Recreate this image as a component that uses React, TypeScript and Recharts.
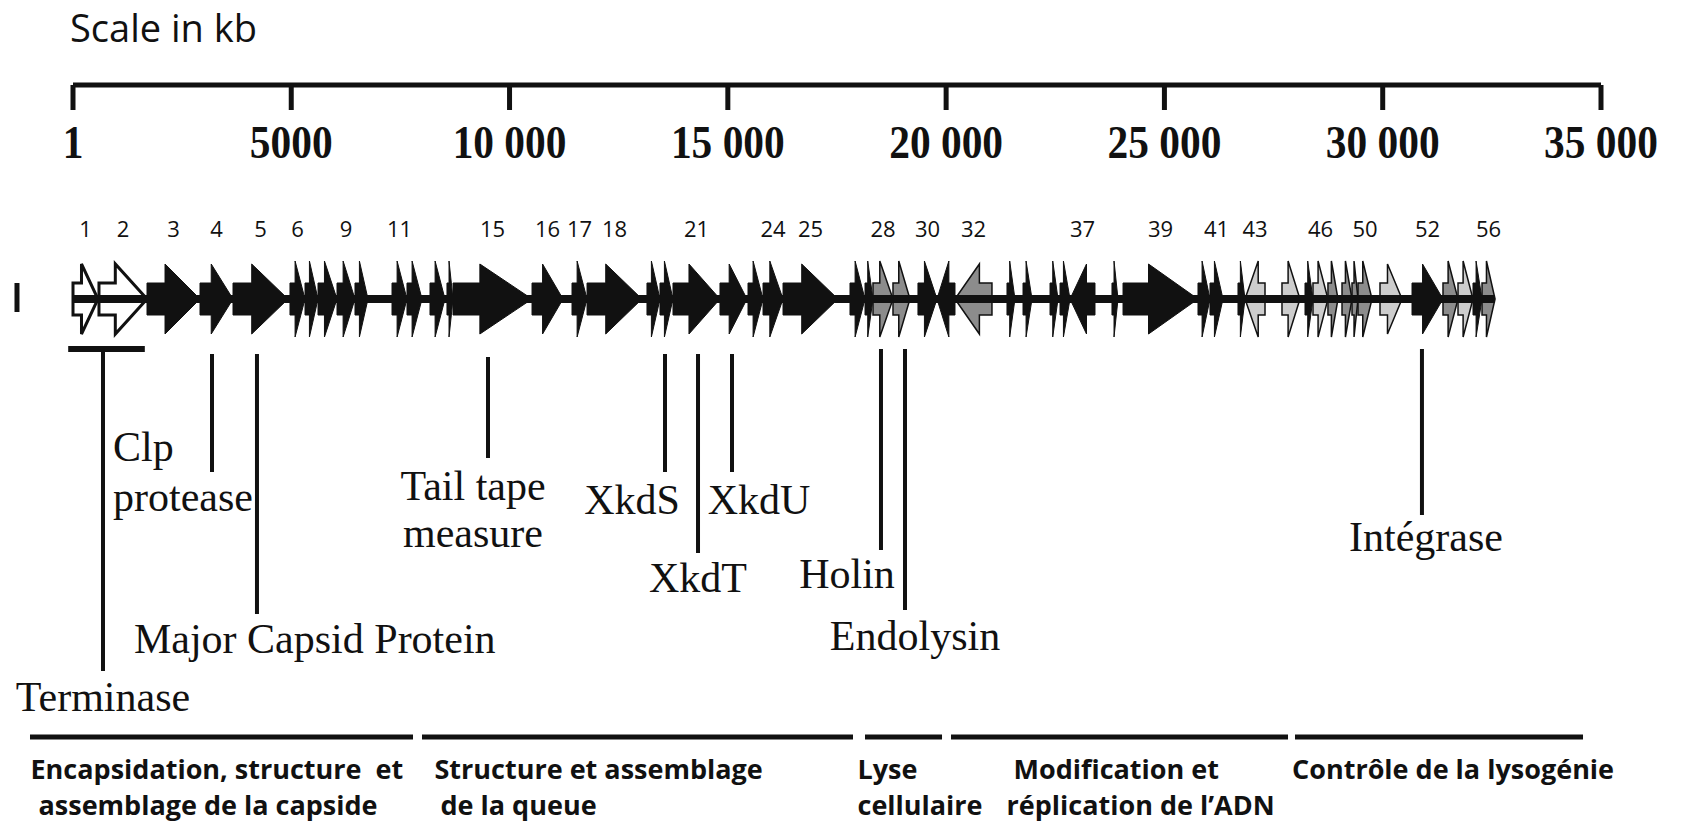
import React from "react";
import {
  ScatterChart,
  XAxis,
  YAxis,
  Scatter,
  ReferenceArea,
  ReferenceLine,
  Customized,
} from "recharts";

// chart box
const W = 1667;
const H = 813;

// ruler (bp)
const rulerTicks = [1, 5000, 10000, 15000, 20000, 25000, 30000, 35000];

// genes (bp)
const geneStart = [
  1, 596, 1696, 2910, 3666, 4971, 5315, 5613, 6048, 6460, 7308, 7651, 8178, 8567, 8705, 10515, 11431, 11775,
  13148, 13446, 13744, 14820, 15462, 15806, 16264, 17798, 18142, 18325, 18783, 19355, 19791, 20203, 21394,
  21761, 22380, 22609, 22838, 23799, 24052, 25769, 26044, 26685, 26846, 27693, 28220, 28403, 28746, 29068,
  29297, 29434, 29938, 30671, 31381, 31725, 32068, 32275,
];
const geneEnd = [
  573, 1696, 2910, 3666, 4926, 5315, 5613, 6048, 6460, 6758, 7651, 7995, 8522, 8705, 10515, 11225, 11775,
  13034, 13446, 13744, 14820, 15439, 15806, 16264, 17523, 18142, 18325, 18783, 19172, 19791, 20203, 21050,
  21577, 21967, 22563, 22838, 23410, 23937, 25769, 26044, 26342, 26846, 27304, 28105, 28403, 28746, 28976,
  29297, 29434, 29755, 30442, 31381, 31725, 32068, 32275, 32573,
];
const reverseGenes = [31, 32, 37, 43];
const whiteGenes = [1, 2];
const greyGenes = [28, 29, 32, 47, 48, 49, 50, 53, 56];
const paleGenes = [43, 44, 46, 51, 54];
const labelledGenes = [1, 2, 3, 4, 5, 6, 9, 11, 15, 16, 17, 18, 21, 24, 25, 28, 30, 32, 37, 39, 41, 43, 46, 50, 52, 56];

// annotated genes
const annotationNames = [
  "Terminase",
  "Clp\nprotease",
  "Major Capsid Protein",
  "Tail tape\nmeasure",
  "XkdS",
  "XkdT",
  "XkdU",
  "Holin",
  "Endolysin",
  "Intégrase",
];
const annotationPos = [688, 3185, 4215, 9507, 13561, 14317, 15096, 18508, 19058, 30899];

// functional modules
const moduleNames = [
  "Encapsidation, structure  et\nassemblage de la capside",
  "Structure et assemblage\nde la queue",
  "Lyse\ncellulaire",
  "Modification et\nréplication de l\u2019ADN",
  "Contrôle de la lysogénie",
];
const moduleStart = [-984, 7995, 18142, 20112, 27991];
const moduleEnd = [7789, 17867, 19906, 27831, 34588];

// ---- layout (px in chart box) ----
const TRACK_Y = 291;
const BODY_HALF = 16;
const NUMBER_Y = 229;
const annotationLayout = [
  { top: 341, bottom: 663, y: 703, dx: 0, anchor: "middle", gap: 0 },
  { top: 346, bottom: 464, y: 453, dx: -99, anchor: "start", gap: 50 },
  { top: 346, bottom: 606, y: 645, dx: -123, anchor: "start", gap: 0 },
  { top: 349, bottom: 450, y: 492, dx: -15, anchor: "middle", gap: 47 },
  { top: 346, bottom: 464, y: 506, dx: -33, anchor: "middle", gap: 0 },
  { top: 346, bottom: 545, y: 584, dx: 0, anchor: "middle", gap: 0 },
  { top: 346, bottom: 464, y: 506, dx: 27, anchor: "middle", gap: 0 },
  { top: 341, bottom: 542, y: 580, dx: -34, anchor: "middle", gap: 0 },
  { top: 341, bottom: 602, y: 642, dx: 10, anchor: "middle", gap: 0 },
  { top: 341, bottom: 507, y: 543, dx: 4, anchor: "middle", gap: 0 },
];
const MODULE_BAR_Y = 729;
const MODULE_TEXT_Y = 771;
const MODULE_LINE_GAP = 36;
const moduleDx = [
  [-191, -183],
  [-203, -197],
  [-46, -46],
  [-106, -113],
  [-147, -147],
];

const INK = "#111";
const SERIF = "'Liberation Serif', 'Times New Roman', serif";
const SANS = "'Open Sans', 'Noto Sans', sans-serif";

const genes = geneStart.map((s, i) => {
  const id = i + 1;
  let tone = "black";
  if (whiteGenes.includes(id)) tone = "white";
  else if (greyGenes.includes(id)) tone = "grey";
  else if (paleGenes.includes(id)) tone = "pale";
  return { id, start: s, end: geneEnd[i], reverse: reverseGenes.includes(id), tone };
});

const numberData = labelledGenes.map((id) => ({
  x: (geneStart[id - 1] + geneEnd[id - 1]) / 2,
  y: NUMBER_Y,
  label: String(id),
}));

const annotationData = annotationNames.map((name, i) => ({
  x: annotationPos[i],
  y: annotationLayout[i].y,
  lines: name.split("\n"),
  i,
}));

const moduleData = moduleNames.map((name, i) => ({
  x: (moduleStart[i] + moduleEnd[i]) / 2,
  y: MODULE_TEXT_Y,
  lines: name.split("\n"),
  i,
}));

const toneFill: Record<string, string> = { black: INK, white: "#fff", grey: "#8c8c8c", pale: "#cdcdcd" };

function GeneArrow(props: any) {
  const { x, y, width, height, reverse, tone } = props;
  const cy = y + height / 2;
  const half = height / 2;
  const head = width * 0.66;
  const headHalf = width < 22 ? 38 : 35;
  const tip = reverse ? x : x + width;
  const tail = reverse ? x + width : x;
  const neck = reverse ? x + head : x + width - head;
  const pts = [
    [tail, cy - half],
    [neck, cy - half],
    [neck, cy - headHalf],
    [tip, cy],
    [neck, cy + headHalf],
    [neck, cy + half],
    [tail, cy + half],
  ]
    .map((p) => p.join(","))
    .join(" ");
  return (
    <polygon
      points={pts}
      fill={toneFill[tone]}
      stroke={INK}
      strokeWidth={tone === "white" ? 3 : tone === "black" ? 1 : 1.5}
      strokeLinejoin="miter"
    />
  );
}

function RulerTick(props: any) {
  const { x, y, payload } = props;
  const v = payload.value;
  const label = v >= 10000 ? `${Math.floor(v / 1000)} ${String(v % 1000).padStart(3, "0")}` : String(v);
  return (
    <g transform={`translate(${x},${y})`}>
      <text transform="scale(0.9,1)" textAnchor="middle" fontFamily={SERIF} fontWeight={700} fontSize={46} fill={INK}>
        {label}
      </text>
    </g>
  );
}

const GeneNumber = (p: any) => (
  <text x={p.cx} y={p.cy} textAnchor="middle" fontFamily={SANS} fontSize={22} fill={INK}>
    {p.payload.label}
  </text>
);

const AnnotationLabel = (p: any) => {
  const lay = annotationLayout[p.payload.i];
  return (
    <text fontFamily={SERIF} fontSize={42} textAnchor={lay.anchor} fill={INK}>
      {p.payload.lines.map((t: string, k: number) => (
        <tspan key={k} x={p.cx + lay.dx} y={p.cy + k * lay.gap}>
          {t}
        </tspan>
      ))}
    </text>
  );
};

const ModuleLabel = (p: any) => (
  <text fontFamily={SANS} fontWeight={700} fontSize={27} fill={INK} style={{ whiteSpace: "pre" }}>
    {p.payload.lines.map((t: string, k: number) => (
      <tspan key={k} x={p.cx + moduleDx[p.payload.i][k]} y={p.cy + k * MODULE_LINE_GAP}>
        {t}
      </tspan>
    ))}
  </text>
);

const Title = () => (
  <text x={62} y={34} fontFamily={SANS} fontSize={38} fill={INK}>
    Scale in kb
  </text>
);

export default function App() {
  return (
    <div style={{ width: W, height: H, background: "#fff" }}>
      <style>{"body{overflow:hidden}"}</style>
      <ScatterChart width={W} height={H} margin={{ top: 77, right: 74, bottom: 8, left: 65 }}>
        <XAxis
          type="number"
          dataKey="x"
          domain={[1, 35000]}
          ticks={rulerTicks}
          interval={0}
          orientation="top"
          mirror
          axisLine={{ stroke: INK, strokeWidth: 5 }}
          tickLine={{ stroke: INK, strokeWidth: 5 }}
          tickSize={25}
          tickMargin={48}
          tick={<RulerTick />}
        />
        <YAxis type="number" dataKey="y" domain={[77, 805]} reversed hide />
        <Customized component={<Title />} />

        {/* backbone */}
        <ReferenceLine
          segment={[
            { x: geneStart[0], y: TRACK_Y },
            { x: geneEnd[geneEnd.length - 1], y: TRACK_Y },
          ]}
          stroke={INK}
          strokeWidth={8}
          ifOverflow="visible"
        />
        <ReferenceLine
          segment={[
            { x: -1282, y: TRACK_Y - 16 },
            { x: -1282, y: TRACK_Y + 13 },
          ]}
          stroke={INK}
          strokeWidth={5}
          ifOverflow="visible"
        />

        {genes.map((g) => (
          <ReferenceArea
            key={g.id}
            x1={g.start}
            x2={g.end}
            y1={TRACK_Y - BODY_HALF}
            y2={TRACK_Y + BODY_HALF}
            ifOverflow="visible"
            shape={(p: any) => <GeneArrow {...p} reverse={g.reverse} tone={g.tone} />}
          />
        ))}

        {/* terminase bracket */}
        <ReferenceLine
          segment={[
            { x: geneStart[0] - 110, y: 341 },
            { x: geneEnd[1] - 50, y: 341 },
          ]}
          stroke={INK}
          strokeWidth={6}
          ifOverflow="visible"
        />
        {annotationPos.map((pos, i) => (
          <ReferenceLine
            key={annotationNames[i]}
            segment={[
              { x: pos, y: annotationLayout[i].top },
              { x: pos, y: annotationLayout[i].bottom },
            ]}
            stroke={INK}
            strokeWidth={4}
            ifOverflow="visible"
          />
        ))}

        {moduleStart.map((s, i) => (
          <ReferenceLine
            key={moduleNames[i]}
            segment={[
              { x: s, y: MODULE_BAR_Y },
              { x: moduleEnd[i], y: MODULE_BAR_Y },
            ]}
            stroke={INK}
            strokeWidth={5}
            ifOverflow="visible"
          />
        ))}

        <Scatter data={numberData} shape={GeneNumber} isAnimationActive={false} />
        <Scatter data={annotationData} shape={AnnotationLabel} isAnimationActive={false} />
        <Scatter data={moduleData} shape={ModuleLabel} isAnimationActive={false} />
      </ScatterChart>
    </div>
  );
}
